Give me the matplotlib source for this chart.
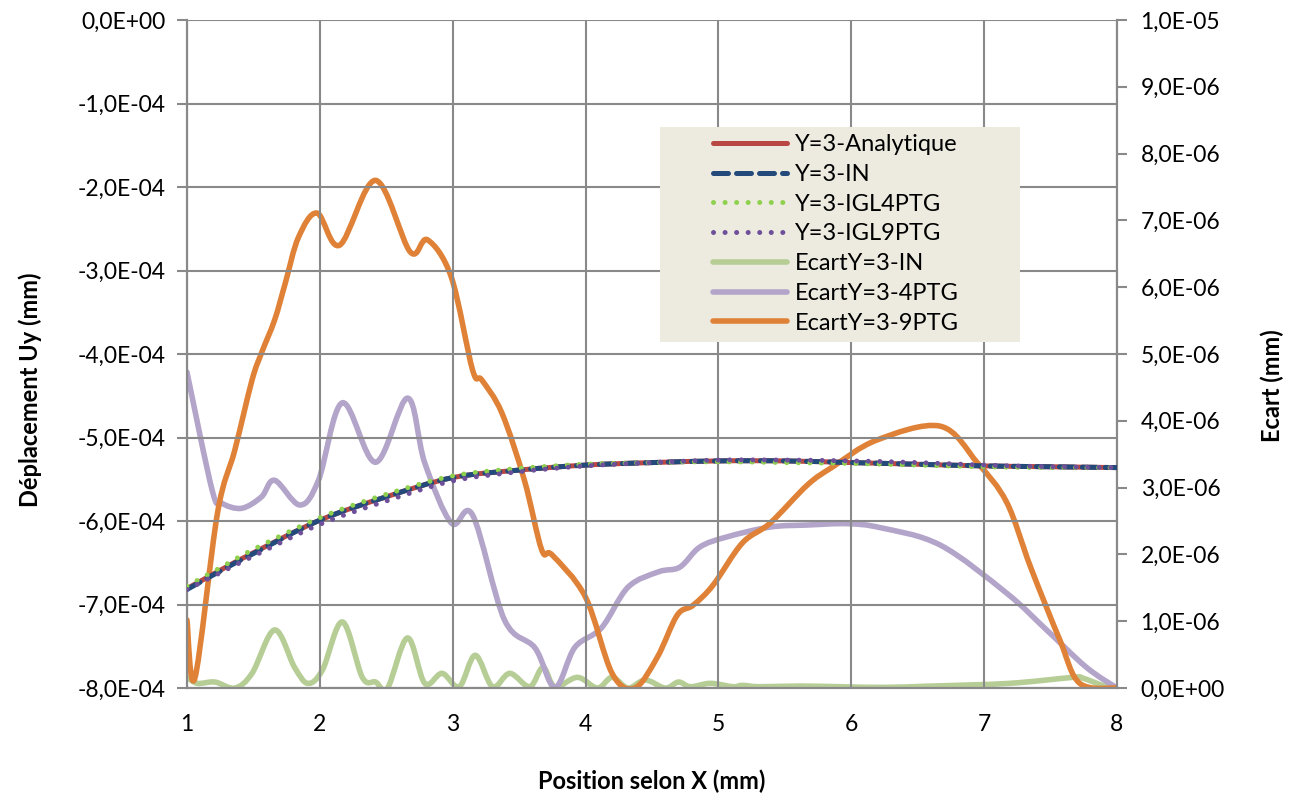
import matplotlib.pyplot as plt
import numpy as np
from matplotlib.lines import Line2D
from matplotlib.patches import PathPatch, Rectangle
from matplotlib.path import Path
from matplotlib.ticker import FuncFormatter, MultipleLocator

# Déplacement Uy (left axis, mm, in 1E-4)
x_main = [1.0, 1.25, 1.5, 2.0, 2.5, 3.0, 3.5, 4.0, 4.5, 5.0, 5.5, 6.0, 6.5, 7.0, 7.5, 8.0]
uy_analytique = [-6.81, -6.59, -6.38, -5.99, -5.71, -5.48, -5.39, -5.33, -5.30, -5.28, -5.28, -5.30, -5.32, -5.34, -5.35, -5.36]
uy_in = [-6.82, -6.60, -6.39, -5.99, -5.71, -5.48, -5.39, -5.33, -5.30, -5.28, -5.28, -5.30, -5.32, -5.34, -5.35, -5.36]
uy_igl4 = [-6.78, -6.56, -6.34, -5.96, -5.68, -5.46, -5.37, -5.32, -5.30, -5.29, -5.30, -5.31, -5.33, -5.35, -5.36, -5.36]
uy_igl9 = [-6.82, -6.62, -6.42, -6.04, -5.76, -5.52, -5.41, -5.34, -5.30, -5.27, -5.27, -5.28, -5.30, -5.33, -5.35, -5.36]

# Ecart (right axis, mm, in 1E-6)
x_in = [1.00, 1.08, 1.21, 1.36, 1.49, 1.66, 1.81, 1.91, 2.02, 2.17, 2.32, 2.42, 2.51, 2.66, 2.79,
        2.92, 3.05, 3.17, 3.30, 3.43, 3.58, 3.68, 3.77, 3.94, 4.09, 4.20, 4.32, 4.45, 4.60, 4.70,
        4.79, 4.94, 5.11, 5.18, 5.31, 5.61, 5.91, 6.24, 6.61, 7.19, 7.67, 7.74, 7.92, 8.00]
ecart_in = [0.16, 0.07, 0.09, 0.00, 0.22, 0.87, 0.31, 0.07, 0.27, 0.99, 0.16, 0.09, 0.00, 0.75, 0.07,
            0.22, 0.02, 0.49, 0.02, 0.22, 0.02, 0.31, 0.02, 0.16, 0.00, 0.16, 0.00, 0.12, 0.00, 0.09,
            0.02, 0.07, 0.02, 0.04, 0.02, 0.03, 0.02, 0.01, 0.03, 0.07, 0.16, 0.15, 0.02, 0.00]

x_4ptg = [1.00, 1.19, 1.26, 1.41, 1.56, 1.66, 1.85, 1.99, 2.17, 2.42, 2.66, 2.79, 2.99, 3.15, 3.39,
          3.62, 3.77, 3.92, 4.12, 4.32, 4.55, 4.71, 4.86, 5.06, 5.39, 5.67, 5.97, 6.22, 6.67, 7.17,
          7.47, 7.77, 8.00]
ecart_4ptg = [4.73, 2.96, 2.77, 2.69, 2.86, 3.11, 2.74, 3.11, 4.27, 3.38, 4.34, 3.37, 2.47, 2.59, 1.02,
              0.60, 0.01, 0.61, 0.90, 1.51, 1.74, 1.81, 2.11, 2.26, 2.41, 2.44, 2.46, 2.40, 2.14, 1.42,
              0.87, 0.31, 0.00]

x_9ptg = [1.00, 1.06, 1.23, 1.36, 1.49, 1.56, 1.66, 1.74, 1.84, 1.98, 2.15, 2.42, 2.68, 2.81, 2.99,
          3.15, 3.22, 3.37, 3.54, 3.67, 3.75, 4.00, 4.20, 4.37, 4.54, 4.69, 4.81, 4.96, 5.18, 5.39,
          5.67, 5.86, 6.19, 6.67, 6.95, 7.17, 7.35, 7.57, 7.72, 8.00]
ecart_9ptg = [1.02, 0.15, 2.62, 3.56, 4.61, 5.01, 5.51, 6.06, 6.75, 7.11, 6.63, 7.60, 6.53, 6.71, 6.15,
              4.76, 4.61, 4.12, 3.11, 2.07, 1.99, 1.36, 0.22, 0.00, 0.46, 1.09, 1.24, 1.54, 2.17, 2.47,
              3.04, 3.31, 3.71, 3.92, 3.37, 2.78, 1.81, 0.72, 0.07, 0.00]

plt.rcParams['font.family'] = ['Lato', 'DejaVu Sans']


def smooth_path(xs, ys):
    # Excel-style "smoothed line": cubic Bezier through the points
    p = np.column_stack([xs, ys]).astype(float)
    ext = np.vstack([p[0], p, p[-1]])
    verts = [p[0]]
    codes = [Path.MOVETO]
    for i in range(len(p) - 1):
        c1 = ext[i + 1] + (ext[i + 2] - ext[i]) / 6.0
        c2 = ext[i + 2] - (ext[i + 3] - ext[i + 1]) / 6.0
        verts += [c1, c2, ext[i + 2]]
        codes += [Path.CURVE4] * 3
    return Path(verts, codes)


fig = plt.figure(figsize=(13, 7.98), dpi=100)
ax = fig.add_axes([0.1438, 0.1378, 0.7154, 0.8371])
ax2 = ax.twinx()

grid_c = '#898989'
series = [
    (ax, x_main, np.array(uy_analytique) * 1e-4, 'Y=3-Analytique', '#B94845', 3.6, '-', 3),
    (ax, x_main, np.array(uy_in) * 1e-4, 'Y=3-IN', '#234A7B', 3.6, (0, (3, 1.6)), 4),
    (ax, x_main, np.array(uy_igl4) * 1e-4, 'Y=3-IGL4PTG', '#8FD14F', 3.6, (0, (0.01, 2.3)), 5),
    (ax, x_main, np.array(uy_igl9) * 1e-4, 'Y=3-IGL9PTG', '#6E509A', 3.6, (0, (0.01, 2.3)), 6),
    (ax2, x_in, np.array(ecart_in) * 1e-6, 'EcartY=3-IN', '#B6CE96', 4.0, '-', 2),
    (ax2, x_4ptg, np.array(ecart_4ptg) * 1e-6, 'EcartY=3-4PTG', '#B3A4CA', 4.0, '-', 2),
    (ax2, x_9ptg, np.array(ecart_9ptg) * 1e-6, 'EcartY=3-9PTG', '#DF8238', 4.0, '-', 2),
]

handles = []
for a, xs, ys, lab, col, lw, ls, z in series:
    patch = PathPatch(smooth_path(xs, ys), fill=False, edgecolor=col, lw=lw,
                      linestyle=ls, capstyle='round', joinstyle='round', zorder=z)
    a.add_patch(patch)
    handles.append(Line2D([], [], color=col, lw=lw, linestyle=ls,
                          dash_capstyle='round', solid_capstyle='round', label=lab))

# main series above the ecart curves
ax.set_zorder(ax2.get_zorder() + 1)
ax.patch.set_visible(False)

ax.set_xlim(1, 8)
ax.set_ylim(-8e-4, 0)
ax2.set_ylim(0, 1e-5)
ax.xaxis.set_major_locator(MultipleLocator(1))
ax.yaxis.set_major_locator(MultipleLocator(1e-4))
ax2.yaxis.set_major_locator(MultipleLocator(1e-6))


def sci_fmt(v, pos):
    s = '%.1E' % v
    if abs(v) < 1e-12:
        s = '0.0E+00'
    return s.replace('.', ',')


ax.yaxis.set_major_formatter(FuncFormatter(sci_fmt))
ax2.yaxis.set_major_formatter(FuncFormatter(sci_fmt))

ax.grid(True, color=grid_c, lw=1.5, zorder=0)
ax.set_axisbelow(True)
for a in (ax, ax2):
    for sp in a.spines.values():
        sp.set_color(grid_c)
        sp.set_linewidth(1.5)
    a.spines['top'].set_visible(False)
ax.tick_params(axis='y', direction='out', length=7, width=1.5, color=grid_c,
               labelsize=16.5, pad=8)
ax.tick_params(axis='x', length=0, labelsize=16.5, pad=19)
ax2.tick_params(axis='y', direction='out', length=7, width=1.5, color=grid_c,
                labelsize=16.5, pad=10)

ax.set_xlabel('Position selon X (mm)', fontsize=17, fontweight='bold')
ax.xaxis.set_label_coords(0.5, -0.122)
ax.set_ylabel('Déplacement Uy (mm)', fontsize=17, fontweight='bold')
ax.yaxis.set_label_coords(-0.156, 0.446)
ax2.set_ylabel('Ecart (mm)', fontsize=17, fontweight='bold')
ax2.yaxis.set_label_coords(1.154, 0.452)

# legend box (Excel tan background)
ax.add_patch(Rectangle((0.5086, 0.518), 0.3871, 0.3219, transform=ax.transAxes,
                       facecolor='#EDEBE0', edgecolor='none', zorder=10))
leg = ax.legend(handles=handles, loc='upper left', bbox_to_anchor=(0.566, 0.829),
                fontsize=17, frameon=False, borderpad=0, handlelength=3.1,
                handletextpad=0.35, labelspacing=0.37, borderaxespad=0)
leg.set_zorder(11)

fig.savefig('out.png', dpi=100)
